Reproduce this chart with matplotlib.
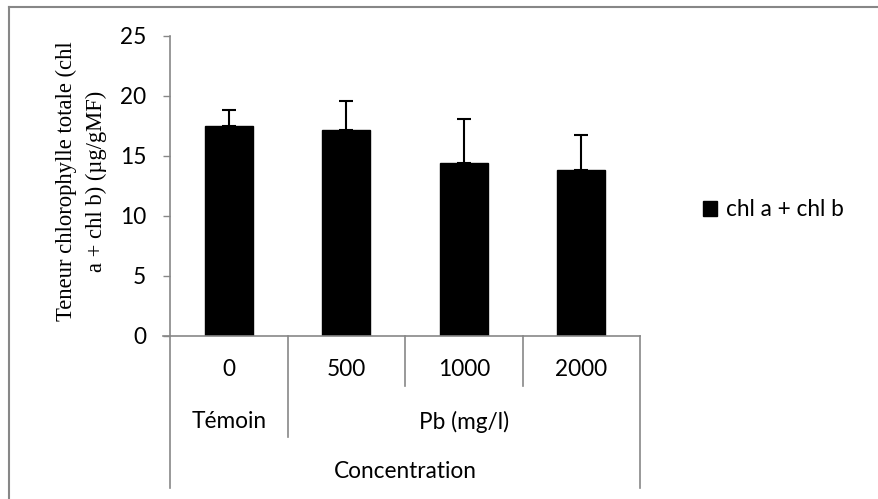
import numpy as np
import matplotlib
matplotlib.use('Agg')
import matplotlib.pyplot as plt
from matplotlib.lines import Line2D
from matplotlib.patches import Patch

# data
doses = ['0', '500', '1000', '2000']
groups = ['Témoin', 'Pb (mg/l)']
group_span = [(0, 0), (1, 3)]   # first and last category of each group
outer_label = 'Concentration'
chl_total = [17.5, 17.2, 14.45, 13.87]
chl_err = [1.3, 2.4, 3.65, 2.85]
series_name = 'chl a + chl b'
ylabel = 'Teneur chlorophylle totale (chl\na + chl b) (µg/gMF)'

GRAY = '#878787'
TICK_FONT = 'Lato'
FS = 16.3

fig = plt.figure(figsize=(8.79, 4.99), dpi=100)
ax = fig.add_axes([170/879, 1-336/499, 470/879, 300/499])

x = np.arange(len(doses))
bars = ax.bar(x, chl_total, width=0.41, color='black', edgecolor='black',
              label=series_name, zorder=2)
ax.errorbar(x, chl_total, yerr=[np.zeros(len(chl_err)), chl_err], fmt='none',
            ecolor='black', elinewidth=1.5, capsize=4.7, capthick=1.5, zorder=3)

ax.set_xlim(-0.5, len(doses) - 0.5)
ax.set_ylim(0, 25)
ax.set_yticks(np.arange(0, 26, 5))
ax.tick_params(axis='y', length=5, width=1, color=GRAY, pad=12,
               labelsize=FS)
for lab in ax.get_yticklabels():
    lab.set_fontfamily(TICK_FONT)
ax.set_xticks([])

for s in ['top', 'right']:
    ax.spines[s].set_visible(False)
ax.spines['left'].set_color(GRAY)
ax.spines['bottom'].set_color(GRAY)
ax.spines['left'].set_linewidth(1.2)
ax.spines['bottom'].set_linewidth(1.2)

# x axis extends left past the y axis like the y tick
ax.plot([-0.5 - 7/117.5, -0.5], [0, 0], color=GRAY, lw=1.2, clip_on=False)

# multi level category axis
tr = ax.get_xaxis_transform()
lvl_bottom = [-50/300, -101/300, -152/300]
lvl_text = [-34/300, -86/300, -136/300]

bounds = np.arange(len(doses) + 1) - 0.5
group_bounds = [g[0] - 0.5 for g in group_span] + [group_span[-1][1] + 0.5]
for b in bounds:
    if b in (bounds[0], bounds[-1]):
        yb = lvl_bottom[2]
    elif b in group_bounds:
        yb = lvl_bottom[1]
    else:
        yb = lvl_bottom[0]
    ax.plot([b, b], [0, yb], color=GRAY, lw=1.2, transform=tr, clip_on=False)

for xi, d in zip(x, doses):
    ax.text(xi, lvl_text[0], d, transform=tr, ha='center', va='center',
            fontsize=FS, family=TICK_FONT)
for (a, b), g in zip(group_span, groups):
    ax.text((a + b) / 2, lvl_text[1], g, transform=tr, ha='center', va='center',
            fontsize=FS, family=TICK_FONT)
ax.text((bounds[0] + bounds[-1]) / 2, lvl_text[2], outer_label, transform=tr,
        ha='center', va='center', fontsize=FS, family=TICK_FONT)

ax.set_ylabel(ylabel, family='Liberation Serif', fontsize=16.3, linespacing=1.55)
ax.yaxis.set_label_coords(-0.134, 0.515)

leg = ax.legend(handles=[Patch(facecolor='black', edgecolor='black')],
                labels=[series_name], loc='center left',
                bbox_to_anchor=(703/879, 1-210/499), bbox_transform=fig.transFigure,
                frameon=False, borderpad=0, borderaxespad=0,
                handlelength=0.6, handleheight=0.6, handletextpad=0.4,
                prop={'family': TICK_FONT, 'size': FS})

# chart border (only left and top visible, the rest is cropped)
fig.add_artist(Line2D([9/879, 9/879], [0, 1-7/499], color=GRAY, lw=1.5))
fig.add_artist(Line2D([9/879, 1], [1-7/499, 1-7/499], color=GRAY, lw=1.5))

fig.savefig('out.png', dpi=100)
